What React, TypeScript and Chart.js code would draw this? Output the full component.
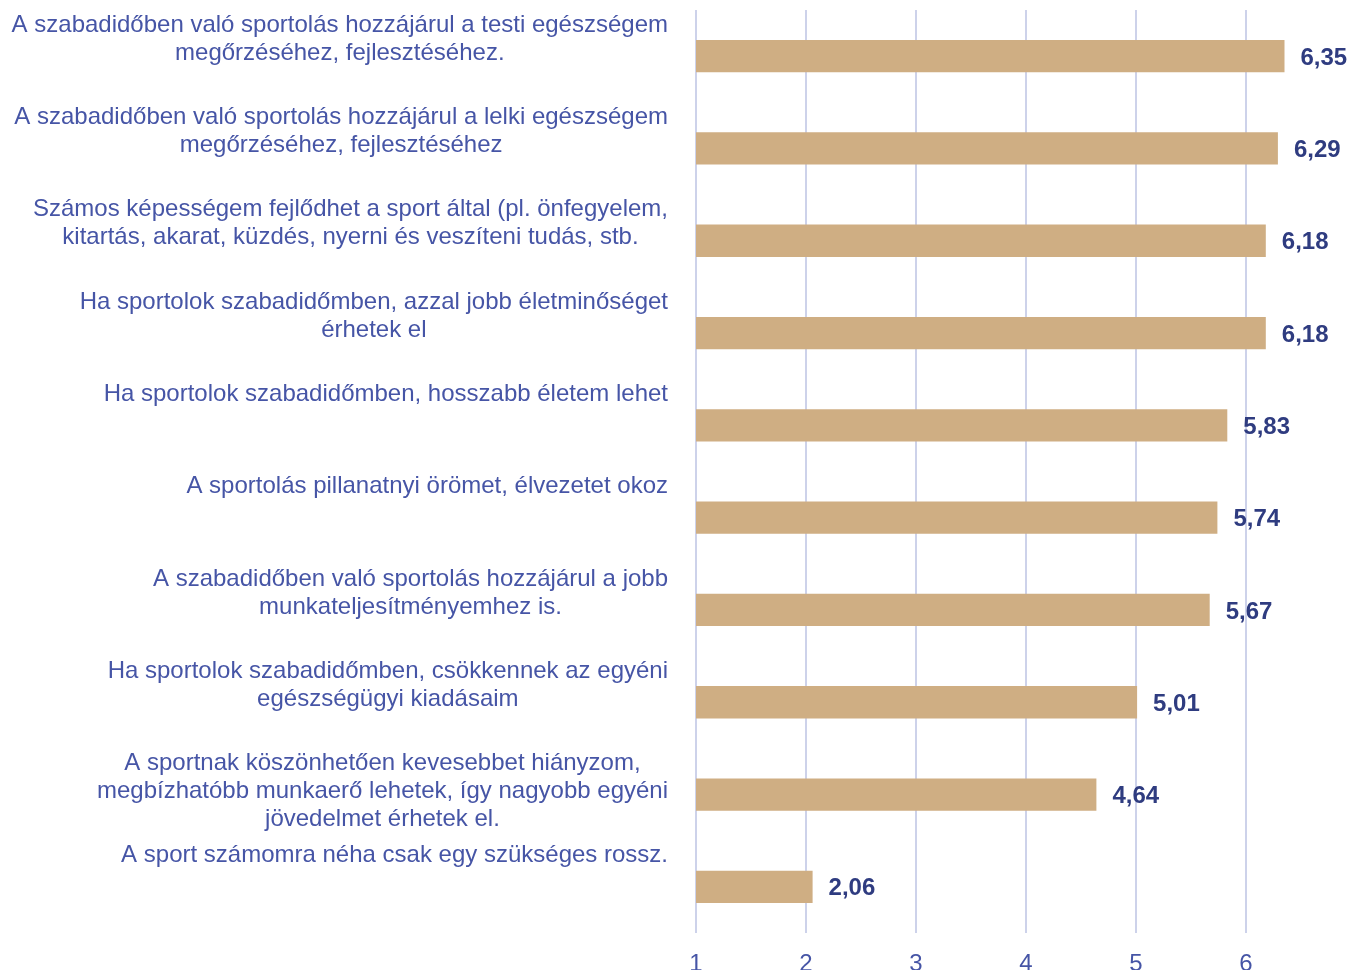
import React, { useEffect, useRef } from "react";
import { Chart, registerables } from "chart.js";

Chart.register(...registerables);

const categoryLines: string[][] = [
  ["A szabadidőben való sportolás hozzájárul a testi egészségem", "megőrzéséhez, fejlesztéséhez."],
  ["A szabadidőben való sportolás hozzájárul a lelki egészségem", "megőrzéséhez, fejlesztéséhez"],
  ["Számos képességem fejlődhet a sport által (pl. önfegyelem,", "kitartás, akarat, küzdés, nyerni és veszíteni tudás, stb."],
  ["Ha sportolok szabadidőmben, azzal jobb életminőséget", "érhetek el"],
  ["Ha sportolok szabadidőmben, hosszabb életem lehet"],
  ["A sportolás pillanatnyi örömet, élvezetet okoz"],
  ["A szabadidőben való sportolás hozzájárul a jobb", "munkateljesítményemhez is."],
  ["Ha sportolok szabadidőmben, csökkennek az egyéni", "egészségügyi kiadásaim"],
  ["A sportnak köszönhetően kevesebbet hiányzom,", "megbízhatóbb munkaerő lehetek, így nagyobb egyéni", "jövedelmet érhetek el."],
  ["A sport számomra néha csak egy szükséges rossz."],
];

const values: number[] = [6.35, 6.29, 6.18, 6.18, 5.83, 5.74, 5.67, 5.01, 4.64, 2.06];

const xTickValues: number[] = [1, 2, 3, 4, 5, 6];

const FONT = "'Liberation Sans', Arial, sans-serif";
const LABEL_COLOR = "#4655A6";
const VALUE_COLOR = "#2F3C80";
const BAR_COLOR = "#CFAE83";
const GRID_COLOR = "#CDD2EA";

const labelsPlugin = {
  id: "customLabels",
  afterDatasetsDraw(chart: any) {
    const ctx = chart.ctx;
    const yScale = chart.scales.y;
    const meta = chart.getDatasetMeta(0);
    ctx.save();
    // category labels
    ctx.font = `24px ${FONT}`;
    ctx.fillStyle = LABEL_COLOR;
    ctx.textAlign = "center";
    ctx.textBaseline = "middle";
    const rightEdge = 668;
    categoryLines.forEach((lines, i) => {
      const yc = yScale.getPixelForValue(i);
      let maxW = 0;
      lines.forEach((l) => {
        maxW = Math.max(maxW, ctx.measureText(l).width);
      });
      const cx = rightEdge - maxW / 2;
      lines.forEach((l, j) => {
        ctx.fillText(l, cx, yc - 31 + j * 28);
      });
    });
    // value labels
    ctx.font = `bold 24px ${FONT}`;
    ctx.fillStyle = VALUE_COLOR;
    ctx.textAlign = "left";
    meta.data.forEach((bar: any, i: number) => {
      const txt = values[i].toFixed(2).replace(".", ",");
      ctx.fillText(txt, bar.x + 16, bar.y + 2);
    });
    ctx.restore();
  },
};

export default function App() {
  const canvasRef = useRef<HTMLCanvasElement | null>(null);

  useEffect(() => {
    document.body.style.margin = "0";
    const canvas = canvasRef.current;
    if (!canvas) return;
    const chart = new Chart(canvas, {
      type: "bar",
      data: {
        labels: categoryLines.map((l) => l.join(" ")),
        datasets: [
          {
            data: values,
            backgroundColor: BAR_COLOR,
            borderWidth: 0,
            barPercentage: 0.35,
            categoryPercentage: 1,
          },
        ],
      },
      options: {
        indexAxis: "y",
        responsive: false,
        animation: false,
        layout: { padding: { left: 696, right: 46, top: 10, bottom: 0 } },
        plugins: {
          legend: { display: false },
          tooltip: { enabled: false },
        },
        scales: {
          x: {
            type: "linear",
            min: 1,
            max: 6.5,
            afterBuildTicks: (scale: any) => {
              scale.ticks = xTickValues.map((v) => ({ value: v }));
            },
            afterFit: (scale: any) => {
              scale.height = 37;
            },
            grid: { color: GRID_COLOR, lineWidth: 2, drawTicks: false },
            border: { display: false },
            ticks: {
              color: LABEL_COLOR,
              font: { family: FONT, size: 24 },
              padding: 17,
            },
          },
          y: {
            display: false,
          },
        },
      },
      plugins: [labelsPlugin],
    });
    return () => chart.destroy();
  }, []);

  return (
    <div style={{ position: "absolute", left: 0, top: 0 }}>
      <canvas ref={canvasRef} width={1347} height={970} />
    </div>
  );
}
